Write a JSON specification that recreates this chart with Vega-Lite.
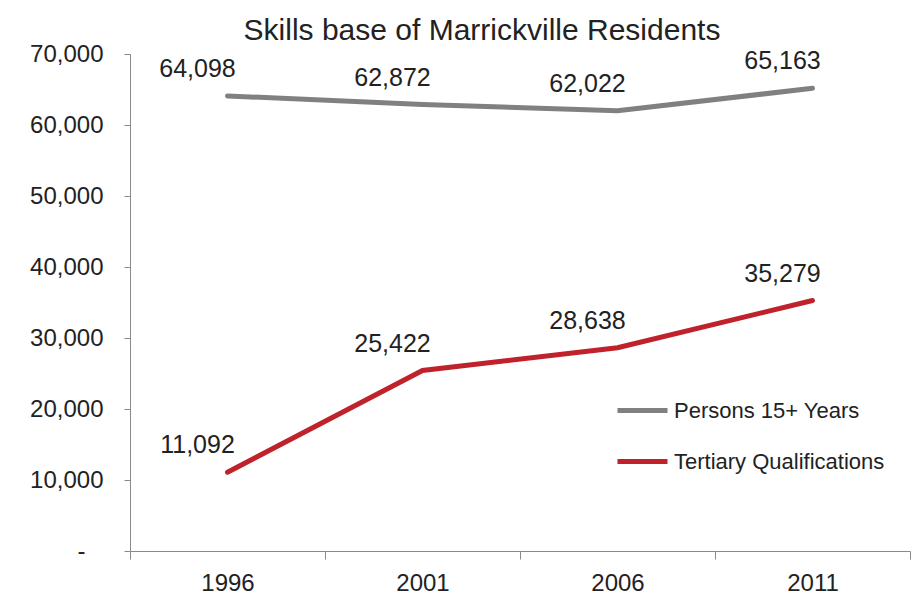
{
  "$schema": "https://vega.github.io/schema/vega-lite/v6.json",
  "width": 780,
  "height": 497,
  "autosize": {"type": "none"},
  "padding": {"left": 130, "top": 54, "right": 3, "bottom": 44},
  "background": "white",
  "config": {
    "font": "Liberation Sans",
    "view": {"stroke": null}
  },
  "title": {
    "text": "Skills base of Marrickville Residents",
    "fontSize": 30,
    "fontWeight": "normal",
    "color": "#222222",
    "anchor": "middle",
    "frame": "group",
    "dx": -38,
    "baseline": "alphabetic",
    "offset": -28
  },
  "data": {
    "values": [
      {"year": "1996", "series": "Persons 15+ Years", "value": 64098},
      {"year": "2001", "series": "Persons 15+ Years", "value": 62872},
      {"year": "2006", "series": "Persons 15+ Years", "value": 62022},
      {"year": "2011", "series": "Persons 15+ Years", "value": 65163},
      {"year": "1996", "series": "Tertiary Qualifications", "value": 11092},
      {"year": "2001", "series": "Tertiary Qualifications", "value": 25422},
      {"year": "2006", "series": "Tertiary Qualifications", "value": 28638},
      {"year": "2011", "series": "Tertiary Qualifications", "value": 35279}
    ]
  },
  "encoding": {
    "x": {
      "field": "year",
      "type": "ordinal",
      "bandPosition": 0.5,
      "scale": {"type": "band", "paddingInner": 0, "paddingOuter": 0},
      "axis": {
        "title": null,
        "labelAngle": 0,
        "labelFontSize": 24,
        "labelColor": "#222222",
        "labelPadding": 12,
        "tickBand": "extent",
        "tickSize": 8,
        "tickColor": "#8a8a8a",
        "domainColor": "#8a8a8a",
        "grid": false
      }
    },
    "y": {
      "field": "value",
      "type": "quantitative",
      "scale": {"domain": [0, 70000], "nice": false},
      "axis": {
        "title": null,
        "values": [0, 10000, 20000, 30000, 40000, 50000, 60000, 70000],
        "labelExpr": "datum.value == 0 ? '-\u2800' : format(datum.value, ',')",
        "labelFontSize": 24,
        "labelColor": "#222222",
        "labelPadding": 21,
        "tickSize": 6,
        "tickColor": "#8a8a8a",
        "domainColor": "#8a8a8a",
        "grid": false
      }
    },
    "color": {
      "field": "series",
      "type": "nominal",
      "scale": {
        "domain": ["Persons 15+ Years", "Tertiary Qualifications"],
        "range": ["#808080", "#c0222c"]
      },
      "legend": {
        "title": null,
        "orient": "none",
        "legendX": 485,
        "legendY": 329,
        "symbolType": "stroke",
        "symbolSize": 2500,
        "symbolStrokeWidth": 5,
        "labelFontSize": 22,
        "labelColor": "#222222",
        "labelOffset": 4,
        "labelLimit": 400,
        "rowPadding": 12
      }
    }
  },
  "layer": [
    {
      "mark": {"type": "line", "strokeWidth": 5, "strokeCap": "round"}
    },
    {
      "mark": {"type": "text", "fontSize": 25, "color": "#222222", "dx": -30, "dy": -27, "baseline": "middle"},
      "encoding": {
        "text": {"field": "value", "type": "quantitative", "format": ","},
        "color": {"value": "#222222"}
      }
    }
  ]
}
